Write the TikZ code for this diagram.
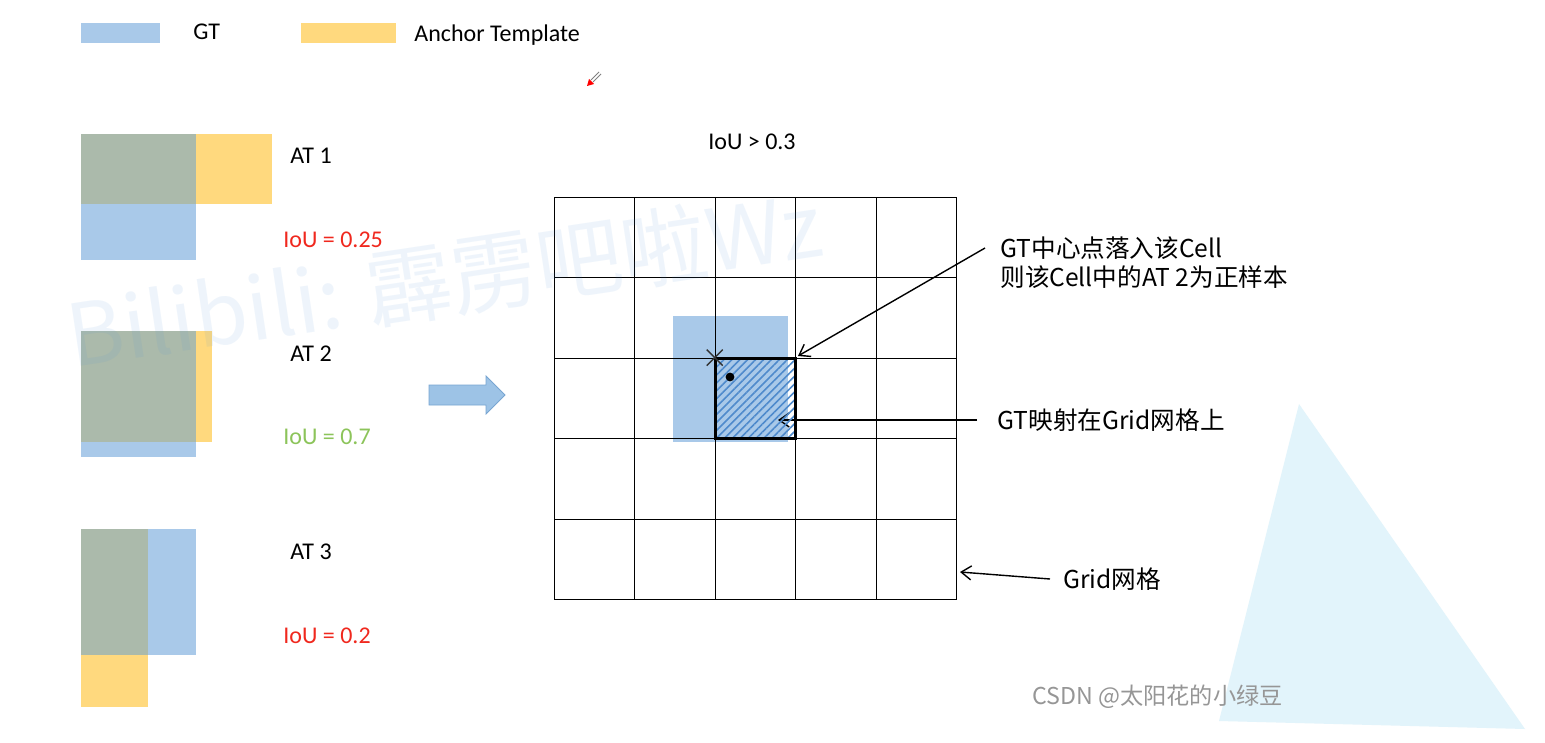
\documentclass[tikz,border=0pt]{standalone}
\usepackage{fontspec}
\setmainfont{Carlito}
\newfontfamily\cjk{Noto Sans CJK SC}
\usetikzlibrary{patterns.meta,arrows.meta}
\definecolor{gtblue}{RGB}{169,201,233}
\definecolor{atyellow}{RGB}{255,217,126}
\definecolor{ovl}{RGB}{171,186,171}
\definecolor{iored}{RGB}{240,40,30}
\definecolor{iogreen}{RGB}{140,196,90}
\definecolor{hatchc}{RGB}{78,138,204}
\definecolor{wmblue}{RGB}{74,144,217}
\definecolor{tri}{RGB}{226,244,251}
\definecolor{csdn}{RGB}{150,150,150}
\definecolor{bigarr}{RGB}{157,195,230}
\definecolor{bigarrline}{RGB}{120,165,210}
\begin{document}
\begin{tikzpicture}[x=0.5pt,y=-0.5pt,
  lbl/.style={inner sep=0pt, font=\fontsize{12}{14}\selectfont, anchor=base west},
  cnlbl/.style={inner sep=0pt, font=\cjk\fontsize{12.3}{15}\selectfont, anchor=west},
  gridline/.style={line width=0.8pt, black},
  pointer/.style={-{Straight Barb[length=5pt,width=7pt]}, line width=0.7pt, black},
]
\useasboundingbox (0,0) rectangle (1545,743);
\fill[white] (0,0) rectangle (1545,743);

% background triangle
\fill[tri] (1299,404) -- (1219,721) -- (1525,729) -- cycle;

% legend
\fill[gtblue] (81,23) rectangle (160,43);
\node[lbl] (lgt) at (193,40) {GT};
\fill[atyellow] (301,23) rectangle (396,43);
\node[lbl] (lat) at (414,42) {Anchor Template};

% cursor mark
\draw[gray, line width=0.4pt] (599,72) -- (591,80);
\draw[gray, line width=0.4pt] (601,74) -- (593,82);
\fill[red] (587,86) -- (589,79) -- (594,84) -- cycle;

% AT 1
\fill[gtblue] (81,134) rectangle (196,260);
\fill[atyellow] (81,134) rectangle (272,204);
\fill[ovl] (81,134) rectangle (196,204);
\node[lbl] (at1) at (290,164) {AT 1};
\node[lbl, text=iored] (iou1) at (283,248) {IoU = 0.25};

% AT 2
\fill[gtblue] (81,331) rectangle (196,457);
\fill[atyellow] (81,331) rectangle (212,442);
\fill[ovl] (81,331) rectangle (196,442);
\node[lbl] (at2) at (290,361) {AT 2};
\node[lbl, text=iogreen] (iou2) at (283,444) {IoU = 0.7};

% AT 3
\fill[gtblue] (81,529) rectangle (196,655);
\fill[atyellow] (81,529) rectangle (148,707);
\fill[ovl] (81,529) rectangle (148,655);
\node[lbl] (at3) at (290,559) {AT 3};
\node[lbl, text=iored] (iou3) at (283,643) {IoU = 0.2};

% block arrow
\filldraw[fill=bigarr, draw=bigarrline, line width=0.4pt]
  (429,385) -- (486,385) -- (486,376) -- (505,395) -- (486,414) -- (486,405) -- (429,405) -- cycle;

% title
\node[lbl, anchor=base] (thr) at (752,150) {IoU > 0.3};

% GT on grid
\fill[gtblue] (673,316) rectangle (788,442);

% grid
\foreach \x in {554.5,634.5,715.5,795.5,876.5,956.5} \draw[gridline] (\x,197.5) -- (\x,599.5);
\foreach \y in {197.5,277.5,358.5,438.5,519.5,599.5} \draw[gridline] (554.5,\y) -- (956.5,\y);

% right labels
\node[cnlbl] (t1) at (1000,248) {GT中心点落入该Cell};
\node[cnlbl] (t2) at (1000,277) {则该Cell中的AT 2为正样本};
\node[cnlbl] (t3) at (997,420) {GT映射在Grid网格上};
\node[cnlbl] (t4) at (1063,579) {Grid网格};

\coordinate (p1) at (798,356);
\coordinate (p2) at (778,420);
\coordinate (p3) at (960,572);

\draw[pointer] ([xshift=-10pt]t3.west) -- (p2);

% hatched cell
\node[draw=black, line width=1.1pt, pattern={Lines[angle=45,distance=2.8pt,line width=0.8pt]}, pattern color=hatchc,
  minimum width=40pt, minimum height=40pt, inner sep=0pt] (cell) at (755.5,398.5) {};

% cross and dot
\draw[line width=0.7pt, black!80] ([shift={(-8,-8)}]cell.north west) -- ([shift={(8,8)}]cell.north west);
\draw[line width=0.7pt, black!80] ([shift={(-8,8)}]cell.north west) -- ([shift={(8,-8)}]cell.north west);
\node[circle, fill=black, inner sep=0pt, minimum size=4.4pt] (dot) at (730,377) {};

\draw[pointer] ([xshift=-7.5pt]t1.west) -- (p1);
\draw[pointer] ([xshift=-6.5pt]t4.west) -- (p3);

% watermarks
\node[rotate=8.5, anchor=base west, inner sep=0pt, text=wmblue, text opacity=0.09,
  font=\cjk\fontsize{43}{50}\selectfont] (wm) at (72,368) {Bilibili: 霹雳吧啦Wz};
\node[anchor=west, inner sep=0pt, font=\cjk\fontsize{11.6}{14}\selectfont, text=csdn] (csdn) at (1032,697) {CSDN @太阳花的小绿豆};
\end{tikzpicture}
\end{document}
